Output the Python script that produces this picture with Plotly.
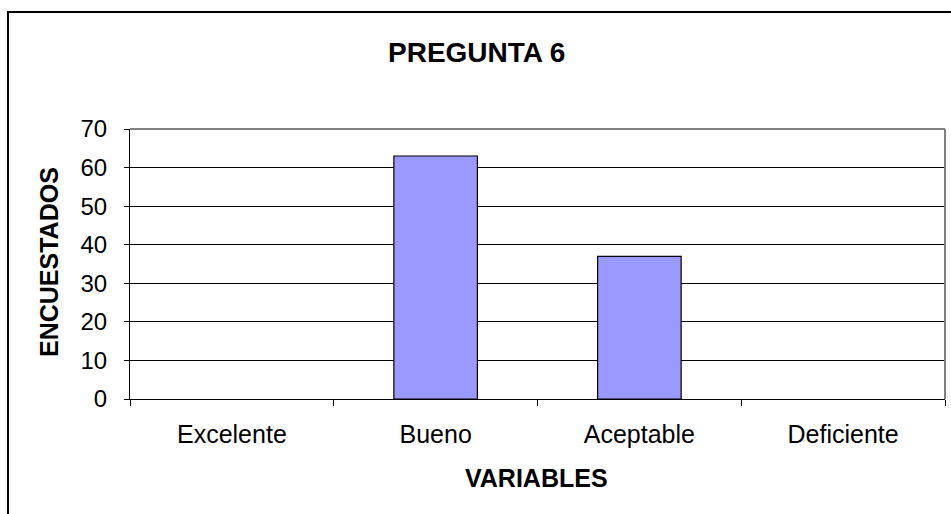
import plotly.graph_objects as go

# Survey results for question 6
categories = ["Excelente", "Bueno", "Aceptable", "Deficiente"]
respondents = [0, 63, 37, 0]
y_ticks = [0, 10, 20, 30, 40, 50, 60, 70]

W, H = 951, 514
L, R, T, B = 130, 6, 129, 115
plot_w = W - L - R
plot_h = H - T - B


def px_x(p):
    return (p - L) / plot_w


def px_y(p):
    return (H - B - p) / plot_h


FONT = "Liberation Sans, Arial, sans-serif"

# no outline on empty bars so nothing sits on the baseline
outline_w = [1.2 if v > 0 else 0 for v in respondents]

fig = go.Figure(
    go.Bar(
        x=categories,
        y=respondents,
        marker=dict(color="#9999FF", line=dict(color="black", width=outline_w)),
        hoverinfo="x+y",
    )
)

fig.update_layout(
    width=W,
    height=H,
    margin=dict(l=L, r=R, t=T, b=B),
    paper_bgcolor="white",
    plot_bgcolor="white",
    bargap=0.59,
    showlegend=False,
    font=dict(family=FONT, color="black"),
    xaxis=dict(
        type="category",
        showline=True,
        linecolor="black",
        linewidth=1.2,
        ticks="outside",
        tickson="boundaries",
        ticklen=6,
        tickcolor="black",
        tickwidth=1.2,
        tickfont=dict(size=25),
        ticklabelstandoff=13,
        showgrid=False,
        zeroline=False,
    ),
    yaxis=dict(
        range=[0, 70],
        tickvals=y_ticks,
        showline=True,
        linecolor="black",
        linewidth=1.2,
        ticks="outside",
        ticklen=5,
        tickcolor="black",
        tickwidth=1.2,
        tickfont=dict(size=24),
        ticklabelstandoff=12,
        showgrid=True,
        gridcolor="black",
        gridwidth=1,
        zeroline=False,
    ),
    shapes=[
        # outer chart frame
        dict(type="rect", xref="paper", yref="paper",
             x0=px_x(8), x1=px_x(975), y0=px_y(540), y1=px_y(12),
             line=dict(color="black", width=2), layer="below"),
        # plot area top and right borders
        dict(type="line", xref="paper", yref="paper",
             x0=0, x1=1, y0=1, y1=1, line=dict(color="#808080", width=2)),
        dict(type="line", xref="paper", yref="paper",
             x0=1, x1=1, y0=0, y1=1, line=dict(color="#808080", width=2)),
    ],
    annotations=[
        dict(text="<b>PREGUNTA 6</b>", xref="paper", yref="paper",
             x=px_x(476), y=px_y(52), xanchor="center", yanchor="middle",
             showarrow=False, font=dict(size=28, family=FONT)),
        dict(text="<b>ENCUESTADOS</b>", xref="paper", yref="paper",
             x=px_x(49), y=px_y(262), xanchor="center", yanchor="middle",
             textangle=-90, showarrow=False, font=dict(size=25, family=FONT)),
        dict(text="<b>VARIABLES</b>", xref="paper", yref="paper",
             x=px_x(536), y=px_y(478), xanchor="center", yanchor="middle",
             showarrow=False, font=dict(size=25, family=FONT)),
    ],
)

fig.write_html("out.html")
